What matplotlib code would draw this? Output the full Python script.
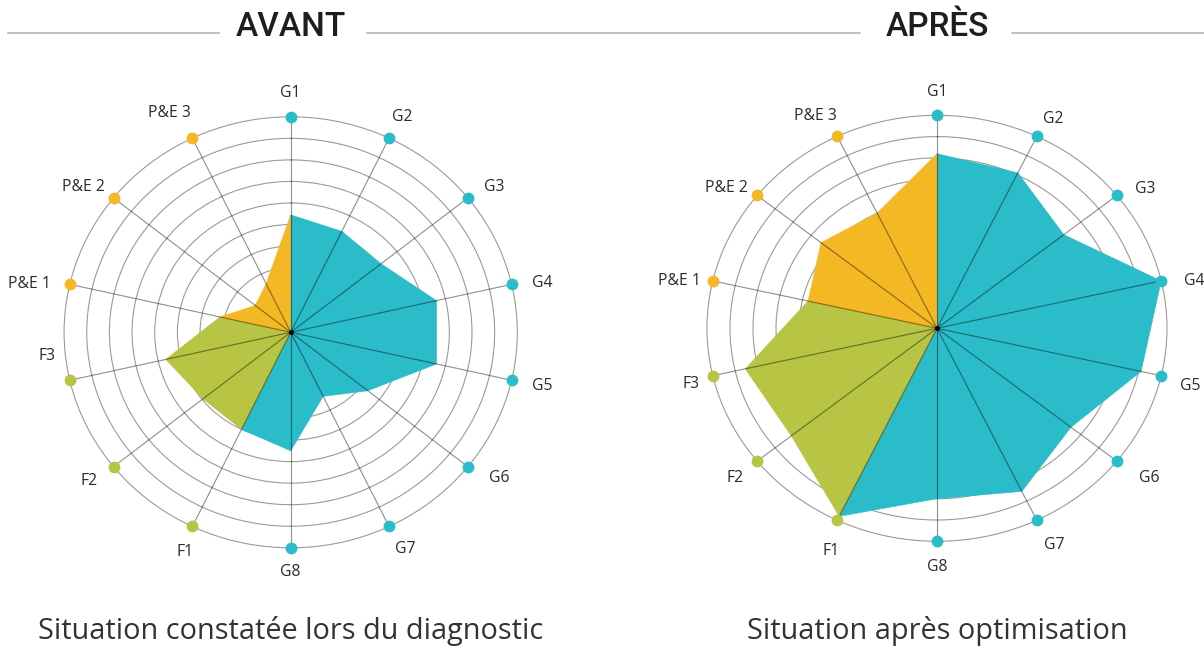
import numpy as np
import matplotlib
matplotlib.use("Agg")
import matplotlib.pyplot as plt
from matplotlib.lines import Line2D

# ---------------- data ----------------
axes_labels = ["G1", "G2", "G3", "G4", "G5", "G6", "G7", "G8",
               "F1", "F2", "F3", "P&E 1", "P&E 2", "P&E 3"]
axes_groups = ["G", "G", "G", "G", "G", "G", "G", "G",
               "F", "F", "F", "P", "P", "P"]
avant_values = [5.45, 5.2, 5.1, 6.6, 6.6, 4.35, 3.3, 5.5,
                5.0, 4.95, 5.65, 3.2, 2.0, 2.5]
apres_values = [8.2, 8.1, 7.05, 10.0, 9.1, 7.45, 8.5, 8.0,
                9.8, 8.1, 8.55, 5.75, 6.45, 6.0]
ring_levels = list(range(1, 10))
scale_max = 10
titles = ["AVANT", "APRÈS"]
subtitles = ["Situation constatée lors du diagnostic", "Situation après optimisation"]

# ---------------- style / layout ----------------
group_colors = {"G": "#2bbcc9", "F": "#b7c444", "P": "#f3b824"}
W, H = 1204, 648
# label offsets in pixels (dx, dy downward) relative to the outer dots
label_offsets_left = [(0, -24), (13, -21), (26, -11), (31, -1), (31, 6), (31, 11), (16, 23),
                      (0, 24), (-7, 26), (-24, 14), (-23, -24), (-40, 0), (-30, -11), (-23, -25)]
label_offsets_right = [(0, -23), (16, -17), (28, -6), (33, 0), (29, 10), (32, 17), (17, 25),
                       (0, 26), (-6, 31), (-22, 17), (-22, 8), (-33, 0), (-31, -7), (-22, -20)]
# chart centre (px) and half sizes (px) horizontally / vertically
chart_boxes = [((290.7, 332.3), 226.6, 215.5), ((937.0, 328.3), 230.0, 213.0)]

label_font = ["Open Sans", "DejaVu Sans"]
title_font = ["Roboto", "DejaVu Sans"]

fig = plt.figure(figsize=(W / 100, H / 100), dpi=100)
fig.patch.set_facecolor("white")

n = len(axes_labels)
theta = np.arange(n) * 2 * np.pi / n


def draw_radar(box, values, offsets):
    (cx, cy), hw, hh = box
    rect = [(cx - hw) / W, (H - cy - hh) / H, 2 * hw / W, 2 * hh / H]
    ax = fig.add_axes(rect, projection="polar")
    ax.set_aspect("auto")
    ax.set_theta_zero_location("N")
    ax.set_theta_direction(-1)
    ax.set_ylim(0, scale_max)
    ax.set_rgrids(ring_levels)
    ax.set_yticklabels([])
    ax.set_xticks([])
    ax.xaxis.grid(False)
    ax.yaxis.grid(True, color="#9a9a9a", lw=0.8)
    ax.set_axisbelow(True)
    ax.spines["polar"].set_color("#9a9a9a")
    ax.spines["polar"].set_linewidth(0.8)
    ax.patch.set_alpha(0)

    # coloured sectors: each group fills from its first spoke to the first spoke of the next group
    starts = [i for i in range(n) if i == 0 or axes_groups[i] != axes_groups[i - 1]]
    for k, s in enumerate(starts):
        e = starts[(k + 1) % len(starts)]
        idx = list(range(s, e + 1)) if e > s else list(range(s, n)) + [0]
        th = [theta[i] for i in idx] + [0]
        rr = [values[i] for i in idx] + [0]
        ax.fill(th, rr, color=group_colors[axes_groups[s]], lw=0.4,
                ec=group_colors[axes_groups[s]], zorder=2)

    # spokes on top
    for t in theta:
        ax.plot([t, t], [0, scale_max], color="black", alpha=0.42, lw=0.85, zorder=3)
    # outer dots
    for t, g in zip(theta, axes_groups):
        ax.plot([t], [scale_max], "o", ms=8.5, color=group_colors[g], mec="none",
                zorder=5, clip_on=False)
    ax.plot([0], [0], "o", ms=2.5, color="black", zorder=6)

    for t, lab, (dx, dy) in zip(theta, axes_labels, offsets):
        ax.annotate(lab, xy=(t, scale_max), xytext=(dx, -dy), textcoords="offset pixels",
                    ha="center", va="center", fontsize=11.3, color="#2b2b2b",
                    family=label_font, fontweight="medium", annotation_clip=False, zorder=7)
    return ax


draw_radar(chart_boxes[0], avant_values, label_offsets_left)
draw_radar(chart_boxes[1], apres_values, label_offsets_right)

# titles with rules
for box, title, sub in zip(chart_boxes, titles, subtitles):
    cx = box[0][0]
    fig.text(cx / W, 1 - 27 / H, title, ha="center", va="center", fontsize=24,
             family=title_font, fontweight="medium", color="#1e1e1e")
    fig.text(cx / W, 1 - 631 / H, sub, ha="center", va="center",
             fontsize=20.8, family=label_font, fontweight="normal", color="#333333")

rule_segments = [(8, 219), (367, 615), (615, 860), (1012, 1204)]
for x0, x1 in rule_segments:
    fig.add_artist(Line2D([x0 / W, x1 / W], [1 - 33 / H, 1 - 33 / H],
                          transform=fig.transFigure, color="#b5b5b5", lw=1.2))

fig.savefig("out.png", dpi=100, facecolor="white")
